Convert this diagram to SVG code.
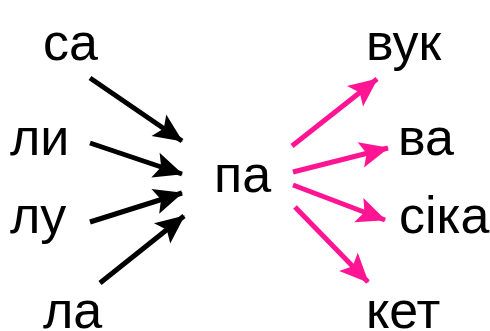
<svg xmlns="http://www.w3.org/2000/svg" width="490" height="331" viewBox="0 0 490 331">
<style>
text{font-family:"Liberation Sans",Arial,sans-serif;font-size:52px;fill:#000}
.b{stroke:#000;stroke-width:5;fill:none}
.p{stroke:#FF1493;stroke-width:5;fill:none}
</style>
<defs>
<marker id="ab" markerUnits="userSpaceOnUse" viewBox="-40 -20 44 40" refX="0" refY="0" markerWidth="44" markerHeight="40" orient="auto" overflow="visible">
<path d="M1,0 L-28,-13 L-22,0 L-28,13 Z" fill="#000"/>
</marker>
<marker id="ap" markerUnits="userSpaceOnUse" viewBox="-40 -20 44 40" refX="0" refY="0" markerWidth="44" markerHeight="40" orient="auto" overflow="visible">
<path d="M1,0 L-28,-13 L-22,0 L-28,13 Z" fill="#FF1493"/>
</marker>
</defs>
<g id="connectors">
<line class="b" x1="90" y1="78" x2="182" y2="141" marker-end="url(#ab)"/>
<line class="b" x1="90" y1="143" x2="182" y2="174" marker-end="url(#ab)"/>
<line class="b" x1="90" y1="222" x2="182" y2="193" marker-end="url(#ab)"/>
<line class="b" x1="100" y1="283" x2="184" y2="216" marker-end="url(#ab)"/>
<line class="p" x1="292" y1="146" x2="377" y2="79" marker-end="url(#ap)"/>
<line class="p" x1="293" y1="172" x2="388" y2="148" marker-end="url(#ap)"/>
<line class="p" x1="293" y1="185" x2="385" y2="220" marker-end="url(#ap)"/>
<line class="p" x1="295" y1="207" x2="368" y2="282" marker-end="url(#ap)"/>
</g>
<g id="n-sa"><text x="43" y="60">са</text></g>
<g id="n-ly"><text x="10" y="155">ли</text></g>
<g id="n-lu"><text x="10" y="233">лу</text></g>
<g id="n-la"><text x="43" y="328">ла</text></g>
<g id="n-pa"><text x="214" y="192">па</text></g>
<g id="n-vuk"><text x="366" y="60">вук</text></g>
<g id="n-va"><text x="398" y="155">ва</text></g>
<g id="n-sika"><text x="399" y="233">сіка</text></g>
<g id="n-ket"><text x="366" y="328">кет</text></g>
</svg>
